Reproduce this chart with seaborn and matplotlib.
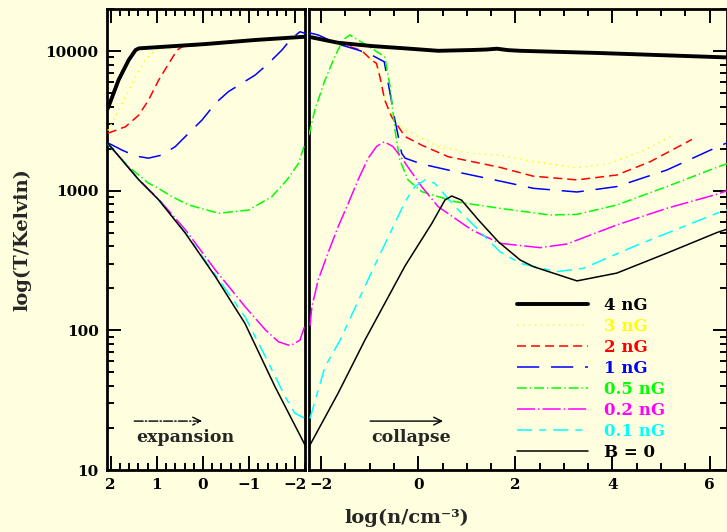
import numpy as np
import pandas as pd
import matplotlib
matplotlib.use("Agg")
import matplotlib.pyplot as plt
from matplotlib.ticker import FixedLocator, FixedFormatter, LogLocator, NullFormatter, MultipleLocator
import seaborn as sns

BG = "#FFFFE0"
sns.set_style("ticks", rc={"axes.facecolor": BG, "figure.facecolor": BG})
plt.rcParams["font.family"] = ["DejaVu Serif"]
plt.rcParams["font.weight"] = "bold"
plt.rcParams["lines.scale_dashes"] = False

# ---------------- data (x = log n, y = T in K) ----------------
# expansion panel (left)
b4_L_x = [2.06, 1.83, 1.61, 1.46, 1.39, -0.05, -1.13, -2.21]
b4_L_y = [3890, 6200, 8620, 10170, 10450, 11220, 12000, 12660]
b3_L_x = [2.06, 1.90, 1.68, 1.46, 1.25, 1.03, 0.0, -1.0, -2.21]
b3_L_y = [2700, 3390, 4710, 6550, 8620, 10170, 11100, 11800, 12600]
b2_L_x = [2.06, 1.68, 1.39, 1.18, 0.96, 0.74, 0.56, 0.45, -0.76, -2.21]
b2_L_y = [2580, 2870, 3480, 4460, 6200, 8160, 10170, 10740, 11660, 12600]
b1_L_x = [2.06, 1.75, 1.46, 1.18, 0.89, 0.60, 0.31, 0.02, -0.27, -0.55, -0.84, -1.13, -1.42,
          -1.71, -1.92, -2.10, -2.21]
b1_L_y = [2200, 1950, 1770, 1710, 1800, 2070, 2580, 3210, 4230, 5120, 5870, 6730, 8160,
          10170, 12330, 13740, 13400]
b05_L_x = [2.06, 1.61, 1.18, 1.03, 0.67, 0.31, -0.34, -0.99, -1.49, -1.82, -2.07, -2.21]
b05_L_y = [2150, 1486, 1130, 1070, 906, 790, 689, 727, 906, 1195, 1571, 2180]
b02_L_x = [2.06, 1.39, 0.96, 0.38, -0.27, -0.91, -1.35, -1.63, -1.89, -2.10, -2.21]
b02_L_y = [2180, 1200, 870, 524, 270, 148, 101, 83, 77.6, 85, 109]
b01_L_x = [2.06, 1.39, 0.96, 0.38, -0.27, -0.91, -1.35, -1.78, -1.99, -2.21]
b01_L_y = [2180, 1195, 860, 500, 249, 125, 65, 33.5, 25.5, 23.4]
b0_L_x = [2.06, 1.39, 0.96, 0.38, -0.27, -0.91, -1.56, -2.21]
b0_L_y = [2180, 1195, 860, 495, 242, 112, 39.5, 15.1]

# collapse panel (right)
b4_R_x = [-2.25, -2.2, -1.65, -0.96, -0.27, 0.41, 1.10, 1.40, 1.62, 1.85, 2.10, 3.73, 6.36]
b4_R_y = [12600, 12540, 11460, 10860, 10450, 10040, 10170, 10250, 10390, 10150, 10040, 9680, 9000]
b3_R_x = [-2.25, -1.65, -1.17, -0.96, -0.86, -0.79, -0.69, -0.55, -0.48, -0.27, 0.41, 1.10,
          1.68, 2.37, 3.27, 3.95, 4.64, 5.26]
b3_R_y = [12500, 11400, 10100, 8620, 8160, 6550, 4460, 3390, 3210, 2720, 2070, 1850,
          1800, 1615, 1460, 1570, 1950, 2510]
b2_R_x = [-2.25, -1.65, -1.17, -0.96, -0.86, -0.79, -0.69, -0.55, -0.27, 0.07, 0.62, 1.44,
          1.68, 2.37, 3.27, 4.09, 4.78, 5.64]
b2_R_y = [12500, 11400, 10100, 8620, 8160, 6550, 4460, 3390, 2440, 2120, 1750, 1530,
          1470, 1270, 1195, 1295, 1615, 2330]
b1_R_x = [-2.25, -2.2, -2.06, -1.65, -1.24, -0.96, -0.70, -0.58, -0.48, -0.34, -0.27, 0.07,
          0.76, 1.68, 2.37, 3.27, 4.09, 5.12, 6.15, 6.36]
b1_R_y = [13400, 13390, 13030, 11220, 10170, 9360, 8380, 4980, 3210, 1850, 1710, 1553,
          1370, 1173, 1040, 979, 1070, 1406, 2050, 2200]
b05_R_x = [-2.25, -2.13, -1.92, -1.72, -1.55, -1.41, -1.24, -0.96, -0.69, -0.58, -0.48, -0.38,
           -0.21, 0.07, 0.76, 1.68, 2.71, 3.27, 4.09, 5.12, 6.15, 6.36]
b05_R_y = [2500, 3790, 6200, 9100, 12000, 13030, 12000, 10450, 9100, 5560, 2720, 1660,
           1195, 985, 834, 748, 670, 677, 790, 1070, 1470, 1560]
b02_R_x = [-2.23, -2.19, -2.06, -1.86, -1.65, -1.44, -1.24, -1.03, -0.86, -0.70, -0.52, -0.34,
           0.07, 0.41, 1.10, 1.68, 2.51, 3.06, 4.09, 5.12, 6.15, 6.36]
b02_R_y = [108, 148, 230, 357, 552, 813, 1195, 1710, 2070, 2240, 2070, 1710,
           1070, 769, 524, 420, 391, 415, 568, 748, 942, 1000]
b01_R_x = [-2.23, -1.92, -1.61, -0.96, -0.27, -0.07, 0.14, 0.34, 0.76, 1.31, 1.68, 2.10,
           2.85, 3.40, 4.43, 6.15, 6.36]
b01_R_y = [23.4, 55, 85, 262, 835, 1070, 1195, 1130, 769, 495, 366, 302,
           263, 278, 397, 689, 730]
b0_R_x = [-2.23, -1.65, -1.10, -0.27, 0.28, 0.55, 0.69, 0.89, 1.24, 1.65, 2.10, 2.37, 3.27,
          4.09, 5.12, 6.15, 6.36]
b0_R_y = [15.1, 35.5, 85, 290, 583, 857, 916, 857, 617, 431, 319, 286, 226,
          257, 357, 501, 530]

labels = ["4 nG", "3 nG", "2 nG", "1 nG", "0.5 nG", "0.2 nG", "0.1 nG", "B = 0"]
colors = ["black", "#FFFF00", "#FF0000", "#0000FF", "#00FF00", "#FF00FF", "#00FFFF", "black"]
widths = [2.8, 1.1, 1.1, 1.1, 1.1, 1.1, 1.1, 1.1]
styles = ["-", (0, (1, 3.3)), (0, (6.5, 3.6)), (0, (16, 8.5)), (0, (7, 2.2, 1, 2.2)),
          (0, (13, 2.2, 1, 2.2)), (0, (11, 5, 5, 5)), "-"]
left_x = [b4_L_x, b3_L_x, b2_L_x, b1_L_x, b05_L_x, b02_L_x, b01_L_x, b0_L_x]
left_y = [b4_L_y, b3_L_y, b2_L_y, b1_L_y, b05_L_y, b02_L_y, b01_L_y, b0_L_y]
right_x = [b4_R_x, b3_R_x, b2_R_x, b1_R_x, b05_R_x, b02_R_x, b01_R_x, b0_R_x]
right_y = [b4_R_y, b3_R_y, b2_R_y, b1_R_y, b05_R_y, b02_R_y, b01_R_y, b0_R_y]

W, H = 727, 532
fig = plt.figure(figsize=(W / 100, H / 100), dpi=100)
bot = (H - 470) / H
hgt = (470 - 9) / H
axL = fig.add_axes([107 / W, bot, 198 / W, hgt])
axR = fig.add_axes([309 / W, bot, 418 / W, hgt])

for i in range(len(labels)):
    z = 5 if i == 0 else 3
    sns.lineplot(x=left_x[i], y=left_y[i], ax=axL, color=colors[i], linewidth=widths[i],
                 linestyle=styles[i], estimator=None, sort=False, zorder=z, legend=False)
    sns.lineplot(x=right_x[i], y=right_y[i], ax=axR, color=colors[i], linewidth=widths[i],
                 linestyle=styles[i], estimator=None, sort=False, zorder=z, label=labels[i])

for ax in (axL, axR):
    ax.set_yscale("log")
    ax.set_ylim(10, 20000)
    ax.set_xlabel("")
    ax.set_ylabel("")
    for s in ax.spines.values():
        s.set_linewidth(2.0)
        s.set_color("black")
        s.set_visible(True)
    ax.yaxis.set_major_locator(LogLocator(base=10))
    ax.yaxis.set_minor_locator(LogLocator(base=10, subs=np.arange(2, 10)))
    ax.yaxis.set_minor_formatter(NullFormatter())

axL.set_xlim(2.08, -2.21)
axR.set_xlim(-2.25, 6.36)

axL.xaxis.set_major_locator(FixedLocator([2, 1, 0, -1, -2]))
axL.xaxis.set_major_formatter(FixedFormatter(["2", "1", "0", "\u22121", "\u22122"]))
axL.xaxis.set_minor_locator(MultipleLocator(0.2))
axR.xaxis.set_major_locator(FixedLocator([-2, 0, 2, 4, 6]))
axR.xaxis.set_major_formatter(FixedFormatter(["\u22122", "0", "2", "4", "6"]))
axR.xaxis.set_minor_locator(MultipleLocator(0.5))

axL.yaxis.set_major_locator(FixedLocator([10, 100, 1000, 10000]))
axL.yaxis.set_major_formatter(FixedFormatter(["10", "100", "1000", "10000"]))

for ax in (axL, axR):
    ax.tick_params(which="both", direction="in", width=1.4, colors="black",
                   top=True, bottom=True, labelsize=11, pad=6)
    ax.tick_params(which="major", length=10)
    ax.tick_params(which="minor", length=5)
axL.tick_params(axis="y", which="both", left=True, right=False, labelleft=True)
axR.tick_params(axis="y", which="both", left=False, right=True, labelleft=False, labelright=False)
for lab in axL.get_xticklabels() + axL.get_yticklabels() + axR.get_xticklabels():
    lab.set_fontweight("bold")

# annotations
axL.annotate("", xy=(0.02, 22.4), xytext=(1.49, 22.4),
             arrowprops=dict(arrowstyle="->", lw=1.0, linestyle="-.", color="black",
                             shrinkA=0, shrinkB=0, mutation_scale=14))
axL.text(0.38, 17.2, "expansion", ha="center", va="center", fontsize=12.5, fontweight="bold")
axR.annotate("", xy=(0.51, 22.4), xytext=(-0.99, 22.4),
             arrowprops=dict(arrowstyle="->", lw=1.0, color="black",
                             shrinkA=0, shrinkB=0, mutation_scale=14))
axR.text(-0.14, 17.2, "collapse", ha="center", va="center", fontsize=12.5, fontweight="bold")

leg = axR.legend(loc="upper left", bbox_to_anchor=(517 / W, 1 - 297 / H),
                 bbox_transform=fig.transFigure, frameon=False, fontsize=12,
                 handlelength=4.25, handletextpad=0.96, labelspacing=0.24,
                 borderpad=0, borderaxespad=0, labelcolor="linecolor")
for t in leg.get_texts():
    t.set_fontweight("bold")

fig.text(22 / W, 1 - 240 / H, "log(T/Kelvin)", rotation=90, ha="center", va="center",
         fontsize=14, fontweight="bold")
fig.text(407 / W, 1 - 518 / H, "log(n/cm\u207b\u00b3)", ha="center", va="center",
         fontsize=14, fontweight="bold")

fig.savefig("out.png", dpi=100, facecolor=BG)
